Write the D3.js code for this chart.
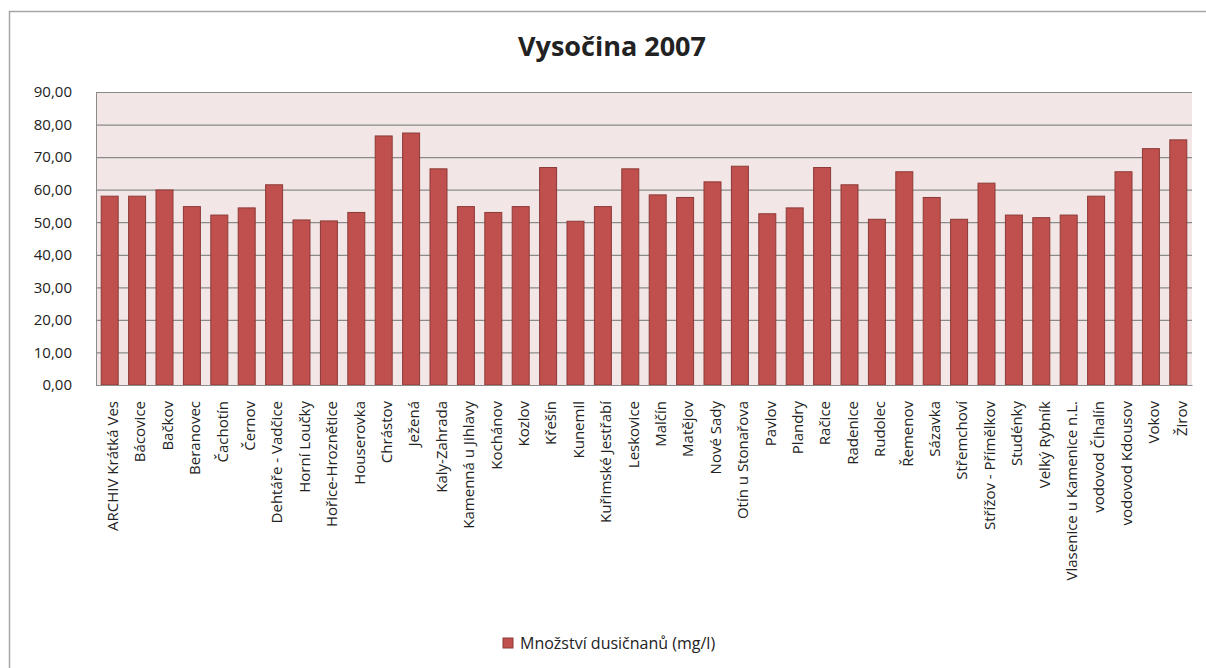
<!DOCTYPE html>
<html>
<head>
<meta charset="utf-8">
<script src="https://cdn.jsdelivr.net/npm/d3@7"></script>
<style>
  body { margin: 0; background: #fff; }
  text { font-family: "Open Sans", sans-serif; fill: #222; }
</style>
</head>
<body>
<div id="canvas"></div>
<script>
const canvas = d3.select("#canvas");

// categories (sample sites) and nitrate values
const sites = [
    "ARCHIV Krátká Ves", "Bácovice", "Bačkov", "Beranovec", "Čachotín", "Černov",
    "Dehtáře - Vadčice", "Horní Loučky", "Hořice-Hroznětice", "Houserovka", "Chrástov",
    "Ježená", "Kaly-Zahrada", "Kamenná u Jihlavy", "Kochánov", "Kozlov", "Křešín",
    "Kunemil", "Kuřimské Jestřabí", "Leskovice", "Malčín", "Matějov", "Nové Sady",
    "Otín u Stonařova", "Pavlov", "Plandry", "Račice", "Radenice", "Rudolec", "Řemenov",
    "Sázavka", "Střemchoví", "Střížov - Přímělkov", "Studénky", "Velký Rybník",
    "Vlasenice u Kamenice n.L.", "vodovod Čihalín", "vodovod Kdousov", "Vokov", "Žirov"
];
const nitrates = [
    58.0, 58.0, 59.9, 54.8, 52.2, 54.4, 61.5, 50.7, 50.4, 53.0, 76.5,
    77.4, 66.4, 54.8, 53.0, 54.8, 66.8, 50.3, 54.8, 66.4, 58.4, 57.6, 62.4,
    67.2, 52.6, 54.4, 66.8, 61.5, 50.9, 65.5, 57.6, 50.9, 62.0, 52.2, 51.4,
    52.2, 58.0, 65.5, 72.6, 75.3
];
const yTicks = [0, 10, 20, 30, 40, 50, 60, 70, 80, 90];
const title = "Vysočina 2007";
const seriesName = "Množství dusičnanů (mg/l)";

const data = sites.map((s, i) => ({ name: s, value: nitrates[i] }));

const width = 1206;
const height = 668;
const plot = { left: 96, right: 1192, top: 92, bottom: 385 };

const svg = canvas.append("svg")
    .attr("width", width)
    .attr("height", height);

// outer chart frame (runs off the right and bottom edge)
svg.append("rect")
    .attr("x", 9.5).attr("y", 11.5)
    .attr("width", 1240).attr("height", 700)
    .attr("fill", "#fff")
    .attr("stroke", "#a6a6a6")
    .attr("stroke-width", 1.5);

const x = d3.scaleBand()
    .domain(sites)
    .range([plot.left, plot.right])
    .paddingInner(0.38)
    .paddingOuter(0.19);

const y = d3.scaleLinear()
    .domain([0, 90])
    .range([plot.bottom, plot.top]);

// plot background
svg.append("rect")
    .attr("x", plot.left).attr("y", plot.top)
    .attr("width", plot.right - plot.left)
    .attr("height", plot.bottom - plot.top)
    .attr("fill", "#f2e6e6");

// gridlines + y labels
const yAxis = svg.append("g")
    .attr("transform", `translate(${plot.left},0)`)
    .call(d3.axisLeft(y)
        .tickValues(yTicks)
        .tickSize(-(plot.right - plot.left))
        .tickPadding(24)
        .tickFormat(d => d.toFixed(2).replace(".", ",")));
yAxis.select(".domain").attr("stroke", "#8c8c8c");
yAxis.selectAll(".tick line").attr("stroke", "#8a8a8a").attr("stroke-width", 1.2);
yAxis.selectAll(".tick text")
    .style("font-family", "'Open Sans', sans-serif")
    .style("font-size", "15px")
    .attr("fill", "#222");

// bars
svg.append("g").selectAll("rect").data(data)
    .enter().append("rect")
    .attr("x", d => x(d.name))
    .attr("y", d => y(d.value))
    .attr("width", x.bandwidth())
    .attr("height", d => y(0) - y(d.value))
    .attr("fill", "#c0504d")
    .attr("stroke", "#8c3a37")
    .attr("stroke-width", 1);

// x axis
const xAxis = svg.append("g")
    .attr("transform", `translate(0,${plot.bottom})`)
    .call(d3.axisBottom(x).tickSize(0).tickPadding(0));
xAxis.select(".domain").attr("stroke", "#8c8c8c");
xAxis.selectAll(".tick text")
    .style("font-family", "'Open Sans', sans-serif")
    .style("font-size", "15px")
    .attr("fill", "#222")
    .attr("text-anchor", "end")
    .attr("transform", "rotate(-90)")
    .attr("x", -16)
    .attr("y", 0)
    .attr("dy", "0.55em");

// title
svg.append("text")
    .attr("x", 612).attr("y", 56)
    .attr("text-anchor", "middle")
    .style("font-size", "27px")
    .style("font-weight", "bold")
    .attr("fill", "#111")
    .text(title);

// legend
const legend = svg.append("g").attr("transform", "translate(503,638)");
legend.append("rect")
    .attr("width", 10).attr("height", 10)
    .attr("fill", "#c0504d")
    .attr("stroke", "#8c3a37");
legend.append("text")
    .attr("x", 17).attr("y", 11)
    .style("font-size", "16px")
    .text(seriesName);
</script>
</body>
</html>
